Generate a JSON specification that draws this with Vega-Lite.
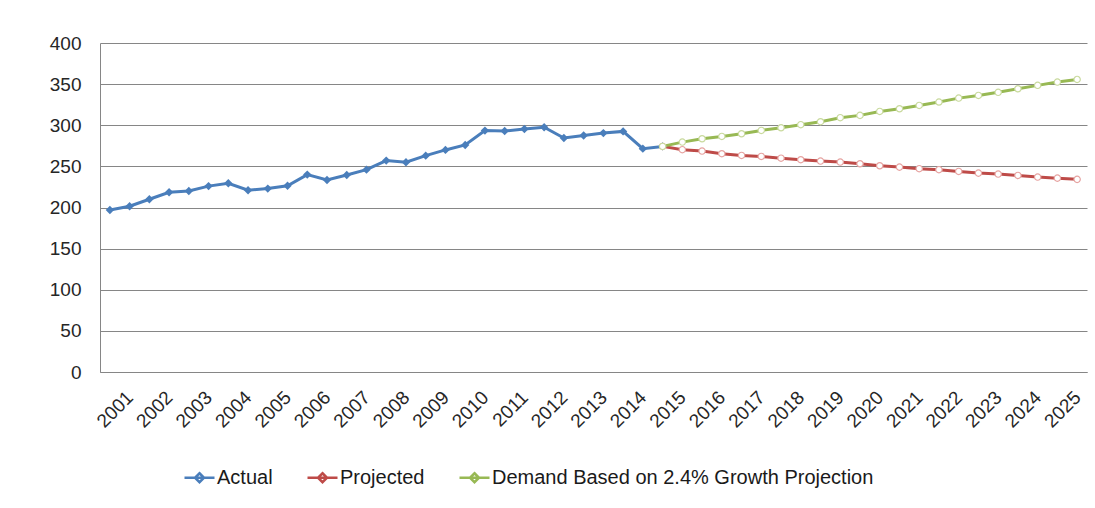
{
  "$schema": "https://vega.github.io/schema/vega-lite/v6.json",
  "width": 987,
  "height": 329,
  "autosize": {"type": "none"},
  "padding": {"left": 100, "top": 43, "right": 8, "bottom": 136},
  "background": "white",
  "config": {
    "font": "Liberation Sans",
    "view": {"stroke": null},
    "axis": {"labelFont": "Liberation Sans", "labelFontSize": 19, "labelColor": "#262626", "domainColor": "#868686", "gridColor": "#868686", "ticks": false}
  },
  "data": {"values": [
    {"t": 2000.5, "series": "Actual", "value": 197},
    {"t": 2001, "series": "Actual", "value": 201.5},
    {"t": 2001.5, "series": "Actual", "value": 210},
    {"t": 2002, "series": "Actual", "value": 218.5},
    {"t": 2002.5, "series": "Actual", "value": 220},
    {"t": 2003, "series": "Actual", "value": 226},
    {"t": 2003.5, "series": "Actual", "value": 229.5},
    {"t": 2004, "series": "Actual", "value": 221},
    {"t": 2004.5, "series": "Actual", "value": 223},
    {"t": 2005, "series": "Actual", "value": 226.5},
    {"t": 2005.5, "series": "Actual", "value": 240},
    {"t": 2006, "series": "Actual", "value": 233.5},
    {"t": 2006.5, "series": "Actual", "value": 239.5},
    {"t": 2007, "series": "Actual", "value": 246},
    {"t": 2007.5, "series": "Actual", "value": 257},
    {"t": 2008, "series": "Actual", "value": 255},
    {"t": 2008.5, "series": "Actual", "value": 263},
    {"t": 2009, "series": "Actual", "value": 270},
    {"t": 2009.5, "series": "Actual", "value": 276},
    {"t": 2010, "series": "Actual", "value": 293.5},
    {"t": 2010.5, "series": "Actual", "value": 293},
    {"t": 2011, "series": "Actual", "value": 295.5},
    {"t": 2011.5, "series": "Actual", "value": 297.5},
    {"t": 2012, "series": "Actual", "value": 284.5},
    {"t": 2012.5, "series": "Actual", "value": 287.5},
    {"t": 2013, "series": "Actual", "value": 290.5},
    {"t": 2013.5, "series": "Actual", "value": 292.5},
    {"t": 2014, "series": "Actual", "value": 271.5},
    {"t": 2014.5, "series": "Actual", "value": 274.3},
    {"t": 2014.5, "series": "Projected", "value": 274.3},
    {"t": 2015, "series": "Projected", "value": 270.3},
    {"t": 2015.5, "series": "Projected", "value": 268.6},
    {"t": 2016, "series": "Projected", "value": 265.4},
    {"t": 2016.5, "series": "Projected", "value": 263.3},
    {"t": 2017, "series": "Projected", "value": 262.1},
    {"t": 2017.5, "series": "Projected", "value": 260},
    {"t": 2018, "series": "Projected", "value": 258.1},
    {"t": 2018.5, "series": "Projected", "value": 256.4},
    {"t": 2019, "series": "Projected", "value": 255.2},
    {"t": 2019.5, "series": "Projected", "value": 253.2},
    {"t": 2020, "series": "Projected", "value": 250.8},
    {"t": 2020.5, "series": "Projected", "value": 249.1},
    {"t": 2021, "series": "Projected", "value": 247.2},
    {"t": 2021.5, "series": "Projected", "value": 246},
    {"t": 2022, "series": "Projected", "value": 243.9},
    {"t": 2022.5, "series": "Projected", "value": 241.8},
    {"t": 2023, "series": "Projected", "value": 240.6},
    {"t": 2023.5, "series": "Projected", "value": 239},
    {"t": 2024, "series": "Projected", "value": 237},
    {"t": 2024.5, "series": "Projected", "value": 235.7},
    {"t": 2025, "series": "Projected", "value": 234.2},
    {"t": 2014.5, "series": "Demand Based on 2.4% Growth Projection", "value": 274.3},
    {"t": 2015, "series": "Demand Based on 2.4% Growth Projection", "value": 279.5},
    {"t": 2015.5, "series": "Demand Based on 2.4% Growth Projection", "value": 283.6},
    {"t": 2016, "series": "Demand Based on 2.4% Growth Projection", "value": 286.4},
    {"t": 2016.5, "series": "Demand Based on 2.4% Growth Projection", "value": 289.7},
    {"t": 2017, "series": "Demand Based on 2.4% Growth Projection", "value": 293.7},
    {"t": 2017.5, "series": "Demand Based on 2.4% Growth Projection", "value": 297},
    {"t": 2018, "series": "Demand Based on 2.4% Growth Projection", "value": 300.7},
    {"t": 2018.5, "series": "Demand Based on 2.4% Growth Projection", "value": 304.3},
    {"t": 2019, "series": "Demand Based on 2.4% Growth Projection", "value": 309.2},
    {"t": 2019.5, "series": "Demand Based on 2.4% Growth Projection", "value": 312},
    {"t": 2020, "series": "Demand Based on 2.4% Growth Projection", "value": 316.8},
    {"t": 2020.5, "series": "Demand Based on 2.4% Growth Projection", "value": 320.1},
    {"t": 2021, "series": "Demand Based on 2.4% Growth Projection", "value": 324.1},
    {"t": 2021.5, "series": "Demand Based on 2.4% Growth Projection", "value": 328.2},
    {"t": 2022, "series": "Demand Based on 2.4% Growth Projection", "value": 333},
    {"t": 2022.5, "series": "Demand Based on 2.4% Growth Projection", "value": 336.3},
    {"t": 2023, "series": "Demand Based on 2.4% Growth Projection", "value": 340},
    {"t": 2023.5, "series": "Demand Based on 2.4% Growth Projection", "value": 344.4},
    {"t": 2024, "series": "Demand Based on 2.4% Growth Projection", "value": 348.5},
    {"t": 2024.5, "series": "Demand Based on 2.4% Growth Projection", "value": 352.5},
    {"t": 2025, "series": "Demand Based on 2.4% Growth Projection", "value": 355.7}
  ]},
  "encoding": {
    "x": {
      "field": "t", "type": "quantitative",
      "scale": {"domain": [2000.25, 2025.25], "nice": false, "zero": false},
      "axis": {
        "title": null, "grid": false, "format": "d",
        "values": [2001, 2002, 2003, 2004, 2005, 2006, 2007, 2008, 2009, 2010, 2011, 2012, 2013, 2014, 2015, 2016, 2017, 2018, 2019, 2020, 2021, 2022, 2023, 2024, 2025],
        "labelAngle": -45, "labelAlign": "right", "labelBaseline": "middle", "labelPadding": 22, "labelFlush": false, "labelOverlap": false
      }
    },
    "y": {
      "field": "value", "type": "quantitative",
      "scale": {"domain": [0, 400], "nice": false},
      "axis": {"title": null, "values": [0, 50, 100, 150, 200, 250, 300, 350, 400], "grid": true, "labelPadding": 19}
    }
  },
  "layer": [
    {
      "mark": {"type": "line", "strokeWidth": 3},
      "encoding": {
        "color": {
          "field": "series", "type": "nominal",
          "scale": {"domain": ["Actual", "Projected", "Demand Based on 2.4% Growth Projection"], "range": ["#4A7EBB", "#BE4B48", "#98B954"]},
          "legend": {
            "title": null, "orient": "none", "direction": "horizontal",
            "legendX": 83, "legendY": 418,
            "symbolType": "M-1,0H1M0,-0.3L0.3,0L0,0.3L-0.3,0Z",
            "symbolSize": 900, "symbolStrokeWidth": 2.5,
            "labelFontSize": 20, "labelFont": "Liberation Sans", "labelColor": "#1a1a1a",
            "labelOffset": 1, "columnPadding": 29, "labelLimit": 500
          }
        },
        "order": {"field": "t"}
      }
    },
    {
      "transform": [{"filter": "datum.series === 'Actual'"}],
      "mark": {"type": "point", "shape": "diamond", "filled": true, "size": 70, "color": "#4A7EBB", "opacity": 1}
    },
    {
      "transform": [{"filter": "datum.series !== 'Actual'"}],
      "mark": {"type": "point", "shape": "circle", "filled": false, "size": 40, "fill": "white", "fillOpacity": 1, "strokeWidth": 1.2, "opacity": 1},
      "encoding": {
        "stroke": {
          "field": "series", "type": "nominal",
          "scale": {"domain": ["Actual", "Projected", "Demand Based on 2.4% Growth Projection"], "range": ["#4A7EBB", "#E6A3A1", "#C9DA9E"]},
          "legend": null
        }
      }
    }
  ]
}
